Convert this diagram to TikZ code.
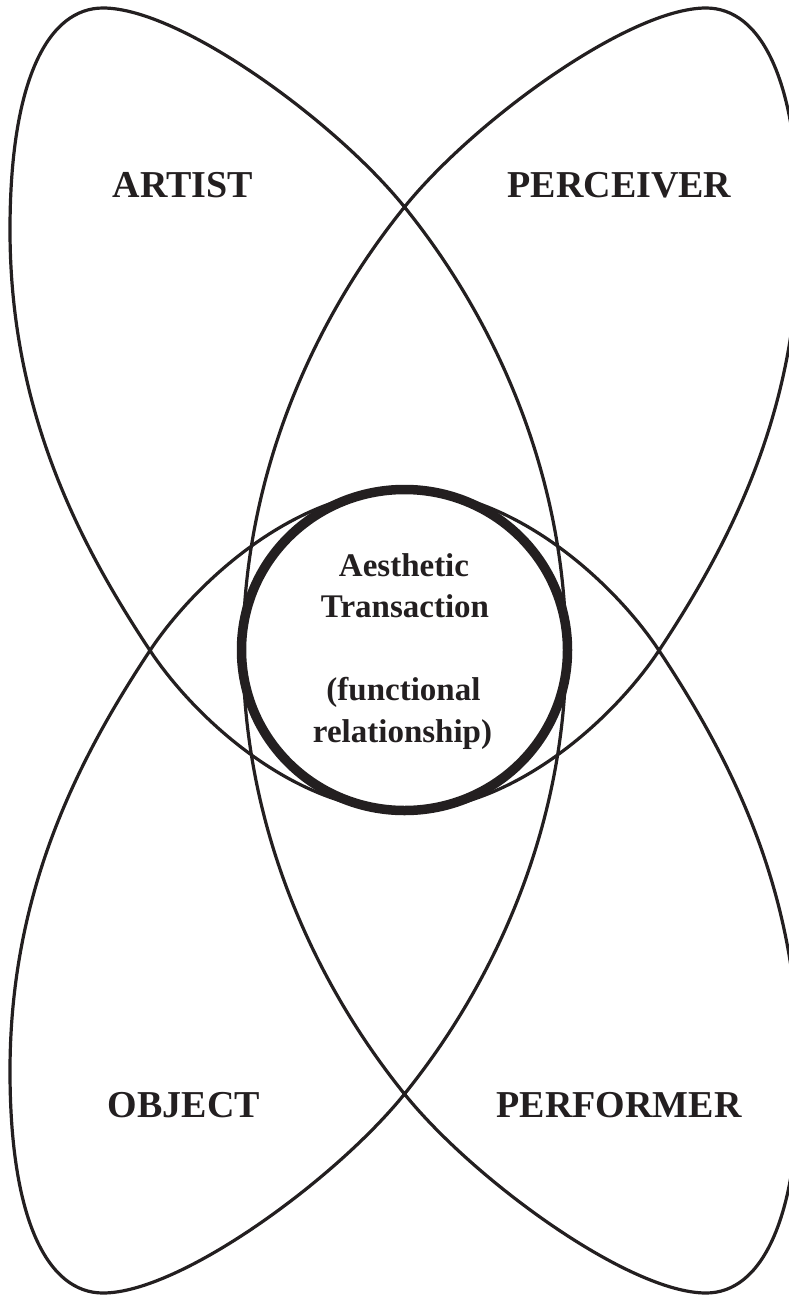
\documentclass[tikz,border=0pt]{standalone}
\usepackage{fontspec}
\setmainfont{Liberation Serif}
\usetikzlibrary{shapes.geometric}
\definecolor{ink}{HTML}{231F20}
\begin{document}
\begin{tikzpicture}[x=1pt,y=-1pt,
  thinline/.style={draw=ink,line width=3.2pt,line join=round},
  ring/.style={draw=ink,line width=9.5pt},
  lobelabel/.style={font=\fontsize{38}{45}\selectfont\bfseries,text=ink,anchor=base,inner sep=0pt},
  centerlabel/.style={font=\fontsize{33}{40}\selectfont\bfseries,text=ink,anchor=base,inner sep=0pt}]
\useasboundingbox (0,0) rectangle (789,1295);
\clip (0,0) rectangle (789,1295);
% key points of the looping outline
\coordinate (T)  at (404.5,207);
\coordinate (Bc) at (404.5,1094);
\coordinate (P1) at (103,8);
\coordinate (P2) at (706,8);
\coordinate (P3) at (706,1293);
\coordinate (P4) at (103,1293);
\coordinate (L1) at (10,230);
\coordinate (R1) at (799,230);
\coordinate (L2) at (10,1071);
\coordinate (R2) at (799,1071);
\coordinate (SL) at (150,650.5);
\coordinate (SR) at (659,650.5);
\coordinate (LB) at (404.5,811);
\coordinate (LT) at (404.5,490);
\coordinate (AL) at (243,650.5);
\coordinate (AR) at (566,650.5);
\draw[thinline]
  (T) .. controls (335.2,121.2) and (180,8) .. (P1)
      .. controls (48,8) and (10,80) .. (L1)
      .. controls (10,410) and (78.5,542.6) .. (SL)
      .. controls (194,717) and (294.5,811) .. (LB)
      .. controls (514.5,811) and (615,717) .. (SR)
      .. controls (730.5,542.6) and (799,410) .. (R1)
      .. controls (799,80) and (761,8) .. (P2)
      .. controls (629,8) and (473.8,121.2) .. (T)
      .. controls (310,324) and (243,480.5) .. (AL)
      .. controls (243,820.5) and (310,977) .. (Bc)
      .. controls (473.8,1179.8) and (629,1293) .. (P3)
      .. controls (761,1293) and (799,1221) .. (R2)
      .. controls (799,891) and (730.5,758.4) .. (SR)
      .. controls (615,584) and (514.5,490) .. (LT)
      .. controls (294.5,490) and (194,584) .. (SL)
      .. controls (78.5,758.4) and (10,891) .. (L2)
      .. controls (10,1221) and (48,1293) .. (P4)
      .. controls (180,1293) and (335.2,1179.8) .. (Bc)
      .. controls (499,977) and (566,820.5) .. (AR)
      .. controls (566,480.5) and (499,324) .. (T) -- cycle;
% central transaction circle
\node[ring,ellipse,minimum width=326pt,minimum height=321pt,inner sep=0pt] (circ) at (404.5,650) {};
% labels
\node[lobelabel] (artist) at (183,197) {ARTIST};
\node[lobelabel] (perceiver) at (619.5,197) {PERCEIVER};
\node[lobelabel] (object) at (184,1117) {OBJECT};
\node[lobelabel] (performer) at (619,1117) {PERFORMER};
\node[centerlabel] (l1) at (404,576) {Aesthetic};
\node[centerlabel] (l2) at (405,617) {Transaction};
\node[centerlabel] (l3) at (403.5,700) {(functional};
\node[centerlabel] (l4) at (402.5,742) {relationship)};
\end{tikzpicture}
\end{document}
